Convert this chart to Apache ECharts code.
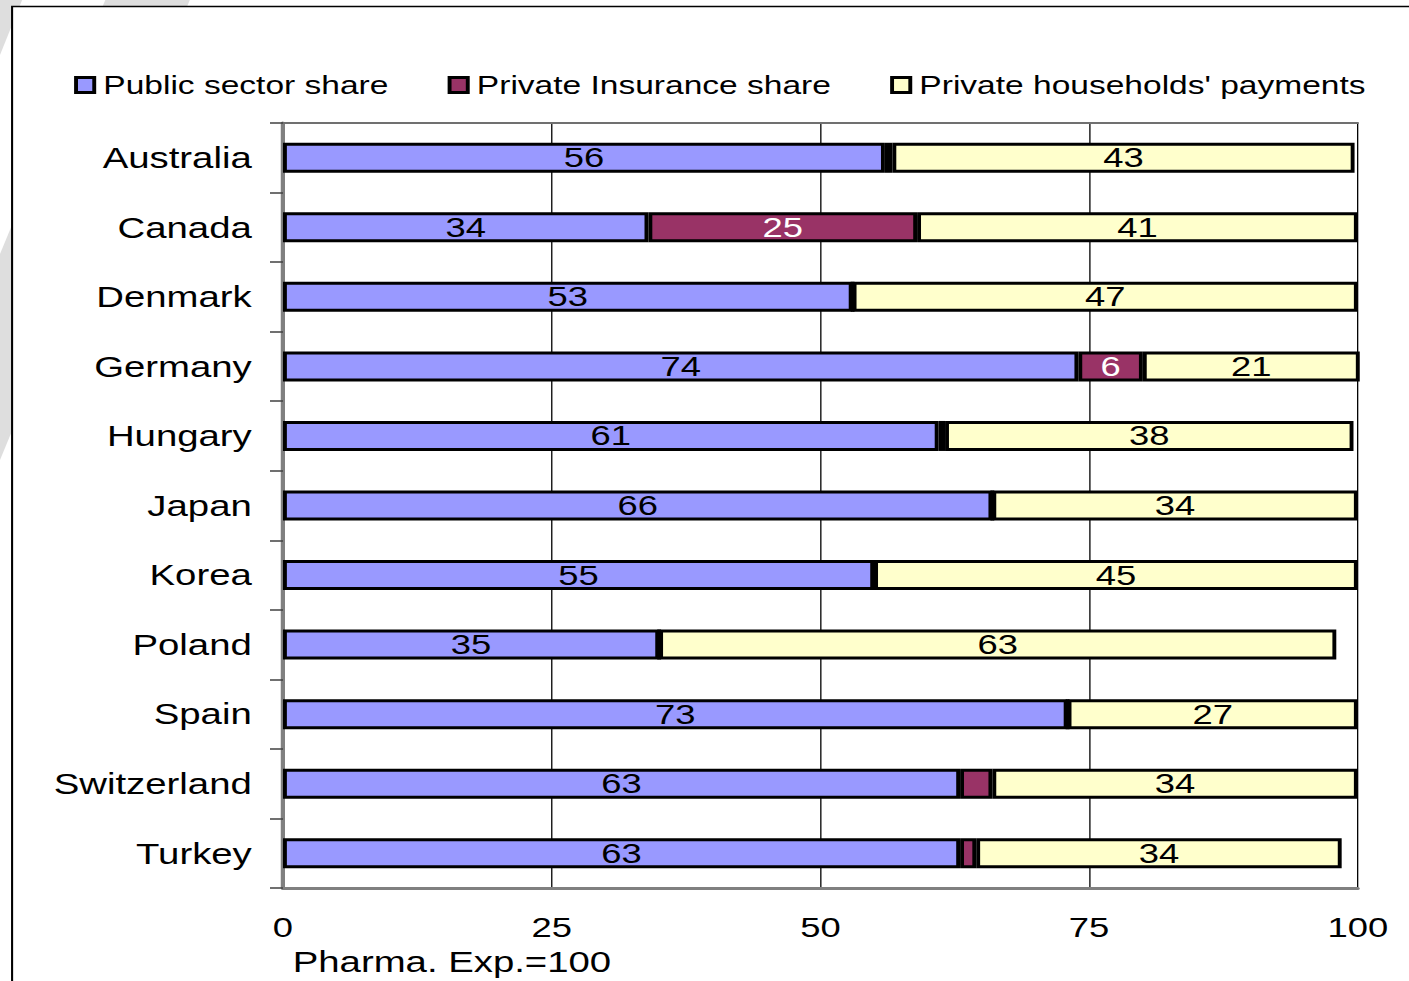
<!DOCTYPE html>
<html>
<head>
<meta charset="utf-8">
<script src="https://cdn.jsdelivr.net/npm/echarts@6/dist/echarts.min.js"></script>
<style>
  html, body { margin: 0; padding: 0; background: #ffffff; overflow: hidden; }
  #wrap { width: 1409px; height: 981px; overflow: hidden; }
  /* the chart is laid out narrow and stretched horizontally */
  #chart { width: 1084px; height: 981px; transform: scaleX(1.29982); transform-origin: 0 0; }
</style>
</head>
<body>
<div id="wrap"><div id="chart"></div></div>
<script>
// Share of pharmaceutical expenditure by source of funding (total = 100)
const categories = ['Australia', 'Canada', 'Denmark', 'Germany', 'Hungary', 'Japan',
                    'Korea', 'Poland', 'Spain', 'Switzerland', 'Turkey'];
const publicShare    = [56, 34, 53, 74, 61, 66, 55, 35, 73, 63, 63];
const insuranceShare = [0.7, 25, 0, 6, 0.6, 0, 0, 0, 0, 3, 1.5];
const householdShare = [43, 41, 47, 21, 38, 34, 45, 63, 27, 34, 34];
const seriesNames = ['Public sector share', 'Private Insurance share', "Private households' payments"];
const xTicks = [0, 25, 50, 75, 100];

const FONT = '"Liberation Sans", Arial, sans-serif';

function barSeries(name, data, fill, labelColor) {
  return {
    name: name,
    type: 'bar',
    stack: 'total',
    data: data,
    barWidth: 30,
    itemStyle: { color: fill, borderColor: '#000000', borderWidth: 3 },
    label: {
      show: true,
      position: 'inside',
      fontFamily: FONT,
      fontSize: 28,
      color: labelColor,
      textBorderWidth: 0,
      formatter: p => (p.value >= 5 ? String(Math.round(p.value)) : '')
    }
  };
}

const chart = echarts.init(document.getElementById('chart'), null, { renderer: 'svg' });
chart.setOption({
  animation: false,
  backgroundColor: '#ffffff',
  textStyle: { fontFamily: FONT },
  graphic: [
    // light grey slide decoration behind the frame
    { type: 'polygon', z: -10, shape: { points: [[0, 0], [17, 0], [0, 55]] }, style: { fill: '#dedede' } },
    { type: 'polygon', z: -10, shape: { points: [[81, 0], [146, 0], [0, 460], [0, 254]] }, style: { fill: '#dedede' } },
    // framed panel
    { type: 'rect', z: -9, shape: { x: 9.3, y: 6.5, width: 1200, height: 1100 },
      style: { fill: '#ffffff', stroke: '#000000', lineWidth: 1.6 } }
  ],
  legend: {
    data: seriesNames,
    left: 57,
    top: 72,
    padding: 0,
    icon: 'rect',
    itemWidth: 14,
    itemHeight: 15,
    itemGap: 45.5,
    itemStyle: { borderColor: '#000000', borderWidth: 3 },
    textStyle: { fontFamily: FONT, fontSize: 25.8, color: '#000000', padding: [0, 0, 0, 2] }
  },
  grid: { left: 217.7, right: 39.4, top: 123, bottom: 93 },
  xAxis: [
    {
      type: 'value',
      min: 0, max: 100, interval: 25,
      position: 'bottom',
      axisLine: { show: true, lineStyle: { color: '#808080', width: 3 } },
      axisTick: { show: false },
      splitLine: { show: true, lineStyle: { color: '#000000', width: 1 } },
      axisLabel: {
        fontFamily: FONT, fontSize: 28, color: '#000000', margin: 26,
        formatter: v => (xTicks.indexOf(v) >= 0 ? String(v) : '')
      },
      name: 'Pharma. Exp.=100',
      nameLocation: 'start',
      nameGap: -7.5,
      nameTextStyle: {
        fontFamily: FONT, fontSize: 29.5, color: '#000000',
        align: 'left', verticalAlign: 'top', padding: [59, 0, 0, 0]
      }
    },
    {
      type: 'value',
      min: 0, max: 100, interval: 25,
      position: 'top',
      axisLine: { show: true, lineStyle: { color: '#707070', width: 2 } },
      axisTick: { show: false },
      axisLabel: { show: false },
      splitLine: { show: false }
    }
  ],
  yAxis: [
    {
      type: 'category',
      data: categories,
      inverse: true,
      position: 'left',
      axisLine: { show: true, lineStyle: { color: '#404040', width: 2 } },
      axisTick: { show: true, length: 10, lineStyle: { color: '#404040', width: 1.5 } },
      axisLabel: { fontFamily: FONT, fontSize: 29.5, color: '#000000', margin: 24 }
    },
    {
      type: 'category',
      data: categories,
      inverse: true,
      position: 'right',
      axisLine: { show: true, lineStyle: { color: '#808080', width: 3 } },
      axisTick: { show: false },
      axisLabel: { show: false }
    }
  ],
  series: [
    barSeries(seriesNames[0], publicShare, '#9999ff', '#000000'),
    barSeries(seriesNames[1], insuranceShare, '#993366', '#ffffff'),
    barSeries(seriesNames[2], householdShare, '#ffffcc', '#000000')
  ]
});
</script>
</body>
</html>
